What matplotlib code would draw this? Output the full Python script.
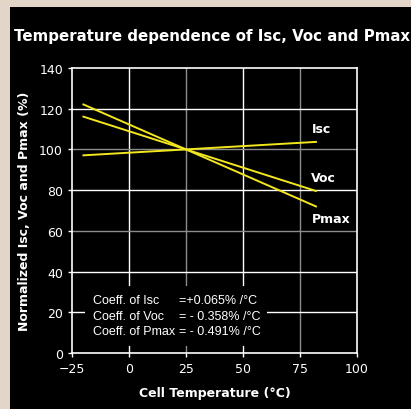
import matplotlib
matplotlib.use("Agg")
import matplotlib.pyplot as plt
from matplotlib.patches import Rectangle

# data: line endpoints (cell temperature, normalized %)
temps = [-20, 82]
isc = [97.1, 103.7]
voc = [116.1, 79.6]
pmax = [122.1, 72.0]
series = ["Isc", "Voc", "Pmax"]
label_pos = [(80, 110.5), (80, 86), (80, 66)]
xticks = [-25, 0, 25, 50, 75, 100]
yticks = [0, 20, 40, 60, 80, 100, 120, 140]
coef_names = ["Coeff. of Isc", "Coeff. of Voc", "Coeff. of Pmax"]
coef_vals = ["=+0.065% /°C", "= - 0.358% /°C", "= - 0.491% /°C"]

BG = "#e3d6c8"
YEL = "#f2e61e"
GRAY = "#8c8c8c"

fig = plt.figure(figsize=(4.11, 4.10), dpi=100, facecolor=BG)
# black panel behind everything
bg = fig.add_axes([10 / 411, 0, 1, 1 - 8 / 410], zorder=0)
bg.set_facecolor("black")
bg.set_axis_off()
bg.add_patch(Rectangle((0, 0), 1, 1, transform=bg.transAxes, facecolor="black", edgecolor="none"))

ax = fig.add_axes([72 / 411, 1 - 354 / 410, 285 / 411, 285 / 410], zorder=1)
ax.set_facecolor("black")
ax.set_xlim(-25, 100)
ax.set_ylim(0, 140)
ax.set_xticks(xticks)
ax.set_yticks(yticks)
ax.tick_params(colors="white", labelsize=9, length=3, width=1)
for s in ax.spines.values():
    s.set_color("white")
    s.set_linewidth(1.2)

# grid: alternating white / gray like the original
for x in xticks[1:-1]:
    ax.axvline(x, color=GRAY if x in (25, 75) else "white", lw=1, zorder=1)
for y in yticks[1:-1]:
    ax.axhline(y, color=GRAY if y in (60, 100) else "white", lw=1, zorder=1)

# box behind coefficient text
ax.add_patch(Rectangle((-19.3, 3.4), 79.8, 29.5, facecolor="black", edgecolor="none", zorder=2))

for vals in (isc, voc, pmax):
    ax.plot(temps, vals, color=YEL, lw=1.4, zorder=3)
for name, (lx, ly) in zip(series, label_pos):
    ax.text(lx, ly, name, color="white", fontsize=9, fontweight="bold", va="center", ha="left", zorder=4)

for i, (n, v) in enumerate(zip(coef_names, coef_vals)):
    yy = 26 - i * 7.6
    ax.text(-15.8, yy, n, color="white", fontsize=9, family="Liberation Sans", va="center", ha="left", zorder=4)
    ax.text(21.8, yy, v, color="white", fontsize=9, family="Liberation Sans", va="center", ha="left", zorder=4)

ax.set_xlabel("Cell Temperature (°C)", color="white", fontsize=9, fontweight="bold", labelpad=8)
ax.set_ylabel("Normalized Isc, Voc and Pmax (%)", color="white", fontsize=9, fontweight="bold", labelpad=6)

fig.text(14 / 411, 1 - 36 / 410, "Temperature dependence of Isc, Voc and Pmax", color="white",
         fontsize=10.8, fontweight="bold", va="center", ha="left", zorder=5)

fig.savefig("out.png", dpi=100, facecolor=BG)
